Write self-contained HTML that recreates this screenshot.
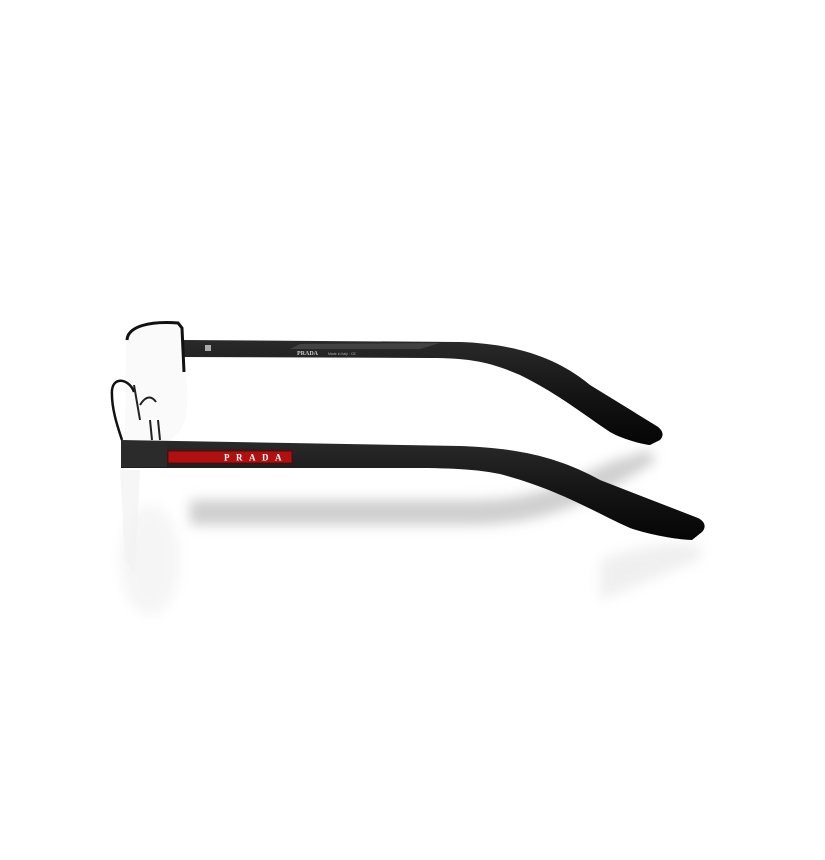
<!DOCTYPE html>
<html><head><style>
html,body{margin:0;padding:0;background:#fff;}
svg{display:block;}
</style></head><body>
<svg width="825" height="860" viewBox="0 0 825 860" xmlns="http://www.w3.org/2000/svg">
<defs>
<filter id="b6" x="-20%" y="-50%" width="140%" height="200%"><feGaussianBlur stdDeviation="6"/></filter>
<linearGradient id="tg" x1="0" y1="0" x2="0" y2="1">
<stop offset="0" stop-color="#2a2a2a"/><stop offset="0.5" stop-color="#151515"/><stop offset="1" stop-color="#050505"/>
</linearGradient>
</defs>
<!-- shadows -->
<path d="M190 500 L470 500 C540 500 570 480 610 462 L650 450 L655 462 C620 480 570 525 470 525 L190 525 Z" fill="#a0a0a0" opacity="0.5" filter="url(#b6)"/>
<path d="M600 560 C640 545 680 540 700 545 L700 560 C670 570 630 590 600 600 Z" fill="#ccc" opacity="0.3" filter="url(#b6)"/>
<ellipse cx="150" cy="560" rx="30" ry="55" fill="#e4e4e4" opacity="0.35" filter="url(#b6)"/>
<!-- lens -->
<path d="M126 335 C130 325 160 320 180 324 L186 375 C190 410 186 430 170 440 L125 440 Z" fill="#f7f7f7" opacity="0.6"/>
<path d="M120 470 L125 560 L135 575 L140 470 Z" fill="#f2f2f2" opacity="0.7"/>
<!-- back temple -->
<path d="M182 340 L460 342 C520 344 560 360 590 385 L655 425 C664 430 664 436 660 440 L650 445 C640 444 620 438 610 432 C580 412 560 395 520 375 C490 362 470 358 430 358 L182 357 Z" fill="url(#tg)"/>
<path d="M420 349 L440 343 L300 344 L290 349 Z" fill="#555" opacity="0.6"/>
<rect x="205" y="345" width="6" height="6" fill="#aaa"/>
<text x="297" y="355" font-family="Liberation Serif, serif" font-size="6" fill="#ccc" font-weight="bold">PRADA</text>
<text x="328" y="355" font-family="Liberation Sans, sans-serif" font-size="3.5" fill="#aaa">Made in Italy · CE</text>
<!-- rim -->
<path d="M127 340 C128 326 150 321 178 323 L182 328 L184 372" fill="none" stroke="#111" stroke-width="3"/>
<path d="M134 392 C130 380 114 375 112 390 C111 408 118 428 122 440" fill="none" stroke="#111" stroke-width="2.5"/>
<path d="M134 385 L140 420 M140 405 C146 395 152 396 156 402 M150 420 L152 440 M158 420 L160 440" fill="none" stroke="#222" stroke-width="2"/>
<!-- front temple -->
<path d="M121 440 L460 446 C520 448 560 458 600 480 L698 518 C706 522 706 528 702 532 L692 540 C680 540 650 535 630 528 C590 510 560 490 500 474 C470 468 440 468 400 468 L121 468 Z" fill="url(#tg)"/>
<rect x="121" y="441" width="46" height="26" fill="#2b2b2b"/>
<rect x="168" y="451" width="124" height="12" fill="#b01010" stroke="#5a0000" stroke-width="0.8"/>
<text x="224" y="460.5" font-family="Liberation Serif, serif" font-size="9" font-weight="bold" fill="#fff" letter-spacing="6.5">PRADA</text>
</svg>
</body></html>
